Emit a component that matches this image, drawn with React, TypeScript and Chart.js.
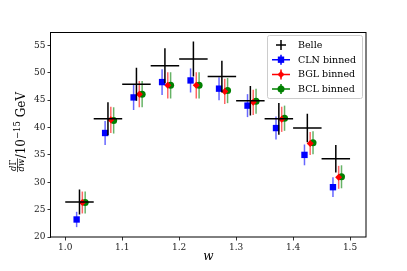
import React, { useEffect, useRef } from "react";
import { Chart, registerables } from "chart.js";
Chart.register(...registerables);

const binCenters = [1.025, 1.075, 1.125, 1.175, 1.225, 1.275, 1.325, 1.375, 1.425, 1.475];
const binHalfWidth = 0.025;
const belleValues = [26.4, 41.6, 47.9, 51.3, 52.5, 49.3, 44.9, 41.6, 39.9, 34.3];
const belleErrors = [2.3, 3.0, 3.0, 3.2, 3.2, 2.9, 2.7, 2.9, 2.6, 2.5];
const clnValues = [23.2, 39.0, 45.5, 48.3, 48.6, 47.1, 44.0, 39.9, 35.0, 29.1];
const clnErrors = [1.4, 2.2, 2.3, 2.35, 2.2, 2.1, 2.1, 2.1, 1.9, 1.8];
const bglValues = [26.3, 41.4, 46.1, 47.7, 47.7, 46.6, 44.6, 41.5, 37.1, 30.9];
const bglErrors = [2.0, 2.4, 2.4, 2.4, 2.4, 2.3, 2.3, 2.3, 2.1, 2.1];
const bclValues = [26.3, 41.3, 46.1, 47.7, 47.7, 46.75, 44.8, 41.7, 37.2, 31.0];
const bclErrors = [2.0, 2.4, 2.4, 2.4, 2.4, 2.3, 2.3, 2.3, 2.1, 2.1];
const xTicks = [1.0, 1.1, 1.2, 1.3, 1.4, 1.5];
const yTicks = [20, 25, 30, 35, 40, 45, 50, 55];
const seriesNames = ["Belle", "CLN binned", "BGL binned", "BCL binned"];

const SERIF = '"DejaVu Serif", serif';

function pts(values: number[], offset: number) {
  return values.map((v, i) => ({ x: binCenters[i] + offset, y: v }));
}

function marker(ctx: CanvasRenderingContext2D, style: string, r: number, x: number, y: number) {
  ctx.beginPath();
  if (style === "rect") {
    const s = Math.SQRT1_2 * r;
    ctx.rect(x - s, y - s, 2 * s, 2 * s);
  } else if (style === "rectRot") {
    ctx.moveTo(x, y - r);
    ctx.lineTo(x + r, y);
    ctx.lineTo(x, y + r);
    ctx.lineTo(x - r, y);
    ctx.closePath();
  } else {
    ctx.arc(x, y, r, 0, Math.PI * 2);
  }
  ctx.fill();
}

const errorBarPlugin = {
  id: "errbars",
  beforeDatasetDraw(chart: any, args: any) {
    const ds = chart.data.datasets[args.index];
    const xs = chart.scales.x;
    const ys = chart.scales.y;
    const ctx = chart.ctx;
    ctx.save();
    ctx.strokeStyle = ds.errColor;
    ctx.lineWidth = 1.5;
    ds.data.forEach((p: any, i: number) => {
      const px = xs.getPixelForValue(p.x);
      const py = ys.getPixelForValue(p.y);
      ctx.beginPath();
      ctx.moveTo(px, ys.getPixelForValue(p.y - ds.yErr[i]));
      ctx.lineTo(px, ys.getPixelForValue(p.y + ds.yErr[i]));
      if (ds.xErr) {
        ctx.moveTo(xs.getPixelForValue(p.x - ds.xErr), py);
        ctx.lineTo(xs.getPixelForValue(p.x + ds.xErr), py);
      }
      ctx.stroke();
    });
    ctx.restore();
  },
};

const decorPlugin = {
  id: "decor",
  afterDraw(chart: any) {
    const ctx = chart.ctx;
    const a = chart.chartArea;
    ctx.save();
    // frame
    ctx.strokeStyle = "#000";
    ctx.lineWidth = 1;
    ctx.strokeRect(Math.round(a.left) - 0.5, Math.round(a.top) + 0.5, Math.round(a.right - a.left) + 0.5, Math.round(a.bottom - a.top) - 0.5);

    // x label
    ctx.fillStyle = "#000";
    ctx.font = "italic 12px " + SERIF;
    ctx.textAlign = "center";
    ctx.textBaseline = "middle";
    ctx.fillText("w", (a.left + a.right) / 2, 257);

    // y label
    ctx.save();
    const cy = 132;
    ctx.translate(24.5, cy);
    ctx.rotate(-Math.PI / 2);
    ctx.textAlign = "left";
    ctx.textBaseline = "alphabetic";
    const big = "12px " + SERIF;
    const sup = "8.5px " + SERIF;
    const fr = "italic 8.5px " + SERIF;
    const frU = "8.5px " + SERIF;
    ctx.font = fr;
    const wd = ctx.measureText("d").width;
    ctx.font = frU;
    const wG = ctx.measureText("Γ").width;
    ctx.font = fr;
    const wdw = ctx.measureText("dw").width;
    const fw = Math.max(wd + wG, wdw) + 1;
    ctx.font = big;
    const wSlash = ctx.measureText("/10").width;
    ctx.font = sup;
    const wSup = ctx.measureText("−15").width;
    ctx.font = big;
    const wGeV = ctx.measureText(" GeV").width;
    const total = fw + wSlash + wSup + wGeV;
    let x = -total / 2;
    const barY = -7;
    const nx = x + (fw - (wd + wG)) / 2;
    ctx.font = fr;
    ctx.fillText("d", nx, barY - 1.5);
    ctx.font = frU;
    ctx.fillText("Γ", nx + wd, barY - 1.5);
    ctx.font = fr;
    ctx.fillText("dw", x + (fw - wdw) / 2, barY + 6.5);
    ctx.fillRect(x, barY - 0.35, fw, 0.7);
    x += fw;
    ctx.font = big;
    ctx.fillText("/10", x, 0);
    x += wSlash;
    ctx.font = sup;
    ctx.fillText("−15", x, -5);
    x += wSup;
    ctx.font = big;
    ctx.fillText(" GeV", x, 0);
    ctx.restore();

    // legend
    const lx = 267, ly = 35, lw = 95, lh = 63;
    ctx.fillStyle = "rgba(255,255,255,0.8)";
    ctx.strokeStyle = "#cccccc";
    ctx.lineWidth = 1;
    ctx.beginPath();
    ctx.roundRect(lx + 0.5, ly + 0.5, lw, lh, 2);
    ctx.fill();
    ctx.stroke();
    const rows = [45, 59.7, 74.4, 89.1];
    const hx = 281;
    const colors = ["#000000", "#0000ff", "#ff0000", "#008000"];
    const styles = ["none", "rect", "rectRot", "circle"];
    const radii = [0, 4.5, 3.5, 3.5];
    rows.forEach((ry, i) => {
      ctx.strokeStyle = colors[i];
      ctx.fillStyle = colors[i];
      ctx.lineWidth = 1.5;
      ctx.beginPath();
      if (i === 0) {
        ctx.moveTo(hx - 5, ry);
        ctx.lineTo(hx + 5, ry);
        ctx.moveTo(hx, ry - 5);
        ctx.lineTo(hx, ry + 5);
      } else {
        ctx.moveTo(hx - 9, ry);
        ctx.lineTo(hx + 9, ry);
        ctx.moveTo(hx, ry - 5);
        ctx.lineTo(hx, ry + 5);
      }
      ctx.stroke();
      if (i > 0) marker(ctx, styles[i], radii[i], hx, ry);
      ctx.fillStyle = "#000";
      ctx.font = "9.5px " + SERIF;
      ctx.textAlign = "left";
      ctx.textBaseline = "middle";
      ctx.fillText(seriesNames[i], 298, ry + 0.5);
    });
    ctx.restore();
  },
};

export default function App() {
  const ref = useRef<HTMLCanvasElement>(null);
  useEffect(() => {
    document.body.style.margin = "0";
    const canvas = ref.current!;
    const chart = new Chart(canvas, {
      type: "scatter",
      data: {
        datasets: [
          {
            label: seriesNames[0],
            data: pts(belleValues, 0),
            pointRadius: 0,
            errColor: "#000000",
            yErr: belleErrors,
            xErr: binHalfWidth,
          } as any,
          {
            label: seriesNames[1],
            data: pts(clnValues, -0.005),
            pointStyle: "rect",
            pointRadius: 4.5,
            backgroundColor: "#0000ff",
            borderWidth: 0,
            errColor: "rgba(0,0,255,0.6)",
            yErr: clnErrors,
          } as any,
          {
            label: seriesNames[2],
            data: pts(bglValues, 0.005),
            pointStyle: "rectRot",
            pointRadius: 3.5,
            backgroundColor: "#ff0000",
            borderWidth: 0,
            errColor: "rgba(255,0,0,0.6)",
            yErr: bglErrors,
          } as any,
          {
            label: seriesNames[3],
            data: pts(bclValues, 0.01),
            pointStyle: "circle",
            pointRadius: 3.5,
            backgroundColor: "#008000",
            borderWidth: 0,
            errColor: "rgba(0,128,0,0.6)",
            yErr: bclErrors,
          } as any,
        ],
      },
      options: {
        responsive: false,
        animation: false,
        events: [],
        layout: { padding: { left: 0, right: 41, top: 32, bottom: 0 } },
        plugins: { legend: { display: false }, tooltip: { enabled: false }, title: { display: false } },
        scales: {
          x: {
            type: "linear",
            min: 0.975,
            max: 1.528,
            afterBuildTicks: (s: any) => { s.ticks = xTicks.map((v) => ({ value: v })); },
            afterFit: (s: any) => { s.height = 34; },
            border: { display: false },
            grid: { drawOnChartArea: false, drawTicks: true, tickLength: 3.5, color: "#000", tickWidth: 0.8 },
            ticks: {
              color: "#222",
              font: { family: SERIF, size: 9 },
              padding: 2,
              maxRotation: 0,
              callback: (v: any) => Number(v).toFixed(1),
            },
          },
          y: {
            type: "linear",
            min: 20,
            max: 57.45,
            afterBuildTicks: (s: any) => { s.ticks = yTicks.map((v) => ({ value: v })); },
            afterFit: (s: any) => { s.width = 51; },
            border: { display: false },
            grid: { drawOnChartArea: false, drawTicks: true, tickLength: 3.5, color: "#000", tickWidth: 0.8 },
            ticks: {
              color: "#222",
              font: { family: SERIF, size: 9 },
              padding: 2,
              callback: (v: any) => String(v),
            },
          },
        },
      },
      plugins: [errorBarPlugin, decorPlugin],
    } as any);
    return () => chart.destroy();
  }, []);
  return <canvas ref={ref} width={407} height={271} style={{ display: "block" }} />;
}
